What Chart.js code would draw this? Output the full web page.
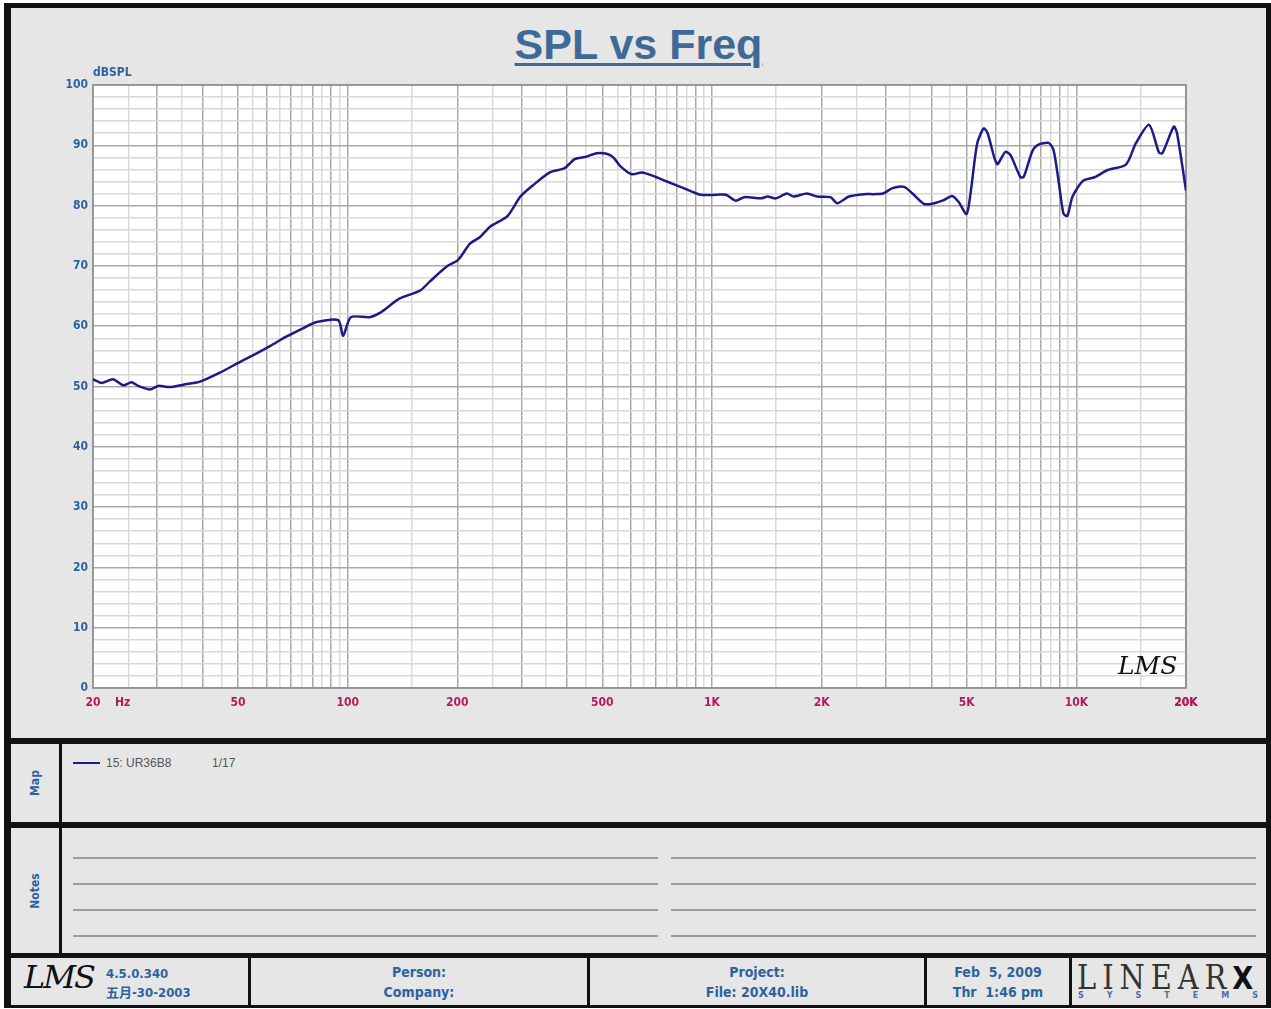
<!DOCTYPE html>
<html>
<head>
<meta charset="utf-8">
<script src="https://cdn.jsdelivr.net/npm/chart.js@4.4.1/dist/chart.umd.min.js"></script>
<style>
  body { margin: 0; background: #fff; width: 1271px; height: 1009px; position: relative; overflow: hidden; }
  .abs { position: absolute; }
  .frame { left: 4px; top: 3px; width: 1267px; height: 1005px; background: #111; }
  .panel { background: #e6e6e6; }
  .narrow { font-family: "Liberation Sans Narrow", "DejaVu Sans Condensed", "Liberation Sans", "Noto Sans CJK SC", sans-serif; font-weight: bold; color: #2d62a0; }
  .title { left: 11px; width: 1255px; top: 20px; text-align: center; font: bold 43px "Liberation Sans", Arial, sans-serif; color: #3f6a95; text-decoration: underline; text-decoration-thickness: 3px; text-underline-offset: 4px; }
  .side { width: 48px; display: flex; align-items: center; justify-content: center; }
  .side span { transform: rotate(-90deg); font-size: 12px; }
  .note { height: 2px; background: #9c9c9c; }
  .foot { display: flex; flex-direction: column; justify-content: center; align-items: center; font-size: 14px; line-height: 20px; }
  #c { position: absolute; left: 0; top: 0; }
</style>
</head>
<body>
<div class="abs frame"></div>
<div class="abs panel" style="left:11px;top:8px;width:1255px;height:730px;"></div>
<div class="abs title">SPL vs Freq</div>

<!-- map panel -->
<div class="abs panel side narrow" style="left:11px;top:744px;height:78px;"><span>Map</span></div>
<div class="abs panel" style="left:62px;top:744px;width:1204px;height:78px;"></div>
<div class="abs" style="left:73px;top:762px;width:27px;height:2px;background:#1c1c86;"></div>
<div class="abs" style="left:106px;top:756px;font:12px 'Liberation Sans',Arial,sans-serif;color:#555;">15: UR36B8</div>
<div class="abs" style="left:212px;top:756px;font:12px 'Liberation Sans',Arial,sans-serif;color:#555;">1/17</div>

<!-- notes panel -->
<div class="abs panel side narrow" style="left:11px;top:828px;height:125px;"><span>Notes</span></div>
<div class="abs panel" style="left:62px;top:828px;width:1204px;height:125px;"></div>
<div class="abs note" style="left:73px;top:857px;width:585px;"></div>
<div class="abs note" style="left:73px;top:883px;width:585px;"></div>
<div class="abs note" style="left:73px;top:909px;width:585px;"></div>
<div class="abs note" style="left:73px;top:935px;width:585px;"></div>
<div class="abs note" style="left:671px;top:857px;width:585px;"></div>
<div class="abs note" style="left:671px;top:883px;width:585px;"></div>
<div class="abs note" style="left:671px;top:909px;width:585px;"></div>
<div class="abs note" style="left:671px;top:935px;width:585px;"></div>

<!-- footer -->
<div class="abs panel" style="left:11px;top:958px;width:237px;height:47px;"></div>
<div class="abs" style="left:24px;top:958px;height:47px;line-height:47px;font:italic 32px 'DejaVu Serif',serif;color:#111;letter-spacing:-2px;">LMS</div>
<div class="abs narrow" style="left:106px;top:964px;font-size:13px;line-height:19px;">4.5.0.340<br>五月-30-2003</div>
<div class="abs panel foot narrow" style="left:251px;top:958px;width:336px;height:47px;"><div>Person:</div><div>Company:</div></div>
<div class="abs panel foot narrow" style="left:590px;top:958px;width:334px;height:47px;"><div>Project:</div><div>File: 20X40.lib</div></div>
<div class="abs panel foot narrow" style="left:927px;top:958px;width:142px;height:47px;"><div>Feb&nbsp; 5, 2009</div><div>Thr&nbsp; 1:46 pm</div></div>
<div class="abs panel" style="left:1072px;top:958px;width:194px;height:47px;"></div>
<div class="abs" style="left:1077px;top:957px;font:34px 'DejaVu Serif','Liberation Serif',serif;color:#333;letter-spacing:7px;transform:scaleX(0.85);transform-origin:left;white-space:nowrap;">LINEAR<span style="font:900 32px 'DejaVu Sans',sans-serif;color:#111;letter-spacing:0;">X</span></div>
<div class="abs" style="left:1078px;top:991px;width:180px;display:flex;justify-content:space-between;font:bold 8px 'DejaVu Sans',sans-serif;color:#4a6ea0;">
  <span>S</span><span>Y</span><span>S</span><span>T</span><span>E</span><span>M</span><span>S</span>
</div>

<canvas id="c" width="1271" height="738"></canvas>

<script>
// measured response (Hz, dBSPL)
const freqHz = [20, 21.1, 22.7, 24.2, 25.5, 26.6, 28.7, 30.2, 32.5, 36.2, 39.3, 44.6, 50.7, 55.1, 61.2, 68, 75.6, 82.2, 94.2, 97.2,
  102, 115, 122.6, 139, 158, 168, 187, 201, 216.6, 231, 246, 274, 298, 323, 359, 394, 420, 452, 482, 514,
  536, 559, 602, 642, 692, 752, 836, 930, 1032, 1092, 1162, 1226, 1363, 1422, 1499, 1604, 1674, 1822, 1942, 2114,
  2206, 2376, 2612, 2784, 2948, 3128, 3366, 3550, 3816, 4020, 4326, 4560, 4754, 4996, 5124, 5344, 5570, 5710, 6056, 6384,
  6592, 7026, 7176, 7558, 7806, 8392, 8658, 8934, 9216, 9448, 9764, 10428, 11218, 12196, 13680, 14560, 15840, 16860, 17232, 18520,
  18900, 20000];
const splDb = [51.2, 50.6, 51.2, 50.2, 50.7, 50.1, 49.5, 50.1, 49.9, 50.4, 50.8, 52.3, 54.1, 55.2, 56.7, 58.3, 59.7, 60.7, 61.0, 58.4,
  61.5, 61.5, 62.2, 64.6, 65.9, 67.4, 69.9, 71.0, 73.7, 74.8, 76.5, 78.2, 81.5, 83.4, 85.5, 86.2, 87.7, 88.1, 88.7, 88.6,
  88.0, 86.6, 85.2, 85.5, 84.9, 84.0, 82.9, 81.8, 81.8, 81.8, 80.8, 81.4, 81.2, 81.5, 81.2, 82.0, 81.5, 82.0, 81.5, 81.4,
  80.4, 81.5, 81.9, 81.9, 82.0, 82.9, 83.1, 82.0, 80.3, 80.3, 80.9, 81.6, 80.6, 78.6, 82.0, 90.3, 92.8, 92.0, 86.9, 88.9,
  88.4, 84.7, 84.8, 88.9, 90.0, 90.4, 89.2, 84.2, 78.7, 78.3, 81.5, 84.1, 84.7, 85.9, 86.8, 90.3, 93.4, 88.8, 88.7, 93.1,
  92.0, 82.5];

const xTickValues = [20, 50, 100, 200, 500, 1000, 2000, 5000, 10000, 20000];
const xTickLabels = ['20', '50', '100', '200', '500', '1K', '2K', '5K', '10K', '20K'];
const yLabelValues = [0, 10, 20, 30, 40, 50, 60, 70, 80, 90, 100];

const narrowFont = '"Liberation Sans Narrow", "DejaVu Sans Condensed", "Liberation Sans", sans-serif';

// grid positions: every 1x and 0.5x step in each decade
const xGrid = [];
for (let d = 10; d <= 10000; d *= 10) {
  for (let m = 1; m < 10; m += 0.5) {
    const v = m * d;
    if (v >= 20 && v <= 20000) xGrid.push(v);
  }
}
xGrid.push(20000);

function isWholeStep(v) {
  const d = Math.pow(10, Math.floor(Math.log10(v) + 1e-9));
  const m = Math.round(v / d * 2) / 2;
  return m % 1 === 0;
}

const plotBg = {
  id: 'plotBg',
  beforeDraw(chart) {
    const {ctx, chartArea: a} = chart;
    ctx.save();
    ctx.fillStyle = '#ffffff';
    ctx.fillRect(a.left, a.top, a.right - a.left, a.bottom - a.top);
    ctx.restore();
  },
  beforeDatasetsDraw(chart) {
    const {ctx, chartArea: a} = chart;
    ctx.save();
    ctx.strokeStyle = '#8a8a8a';
    ctx.lineWidth = 1.5;
    ctx.strokeRect(a.left, a.top, a.right - a.left, a.bottom - a.top);
    ctx.restore();
  },
  afterDraw(chart) {
    const {ctx, chartArea: a, scales} = chart;
    ctx.save();
    ctx.font = 'bold 12px ' + narrowFont;
    ctx.fillStyle = '#2d62a0';
    ctx.textBaseline = 'bottom';
    ctx.fillText('dBSPL', a.left, a.top - 6);
    ctx.fillStyle = '#b21a5c';
    ctx.textBaseline = 'top';
    ctx.fillText('Hz', scales.x.getPixelForValue(20) + 22, a.bottom + 9);
    ctx.fillStyle = '#111';
    ctx.font = 'italic 25px "DejaVu Serif", serif';
    ctx.textBaseline = 'alphabetic';
    ctx.fillText('LMS', a.right - 68, a.bottom - 14);
    ctx.restore();
  }
};

const ctx = document.getElementById('c').getContext('2d');
new Chart(ctx, {
  type: 'line',
  data: {
    datasets: [{
      data: freqHz.map((f, i) => ({x: f, y: splDb[i]})),
      borderColor: '#1c1c86',
      borderWidth: 2.5,
      pointRadius: 0,
      tension: 0.25,
      fill: false
    }]
  },
  options: {
    responsive: false,
    animation: false,
    devicePixelRatio: 1,
    layout: { padding: { left: 0, top: 85, right: 85, bottom: 0 } },
    plugins: { legend: { display: false }, tooltip: { enabled: false } },
    scales: {
      x: {
        type: 'logarithmic',
        min: 20,
        max: 20000,
        afterBuildTicks: s => { s.ticks = xGrid.map(v => ({value: v})); },
        afterFit: s => { s.height = 50; },
        border: { display: false },
        grid: {
          drawTicks: false,
          color: c => isWholeStep(c.tick.value) ? '#a9a9a9' : '#dadada',
          lineWidth: 1.5
        },
        ticks: {
          autoSkip: false,
          maxRotation: 0,
          padding: 8,
          color: '#b21a5c',
          font: { family: narrowFont, size: 12, weight: 'bold' },
          callback: v => {
            const i = xTickValues.findIndex(t => Math.abs(t - v) < 1e-6);
            return i >= 0 ? xTickLabels[i] : '';
          }
        }
      },
      y: {
        min: 0,
        max: 100,
        afterFit: s => { s.width = 93; },
        border: { display: false },
        grid: {
          drawTicks: false,
          color: c => c.tick.value % 10 === 0 ? '#a9a9a9' : '#d8d8d8',
          lineWidth: 1.5
        },
        ticks: {
          stepSize: 2,
          autoSkip: false,
          padding: 5,
          color: '#2d62a0',
          font: { family: narrowFont, size: 12, weight: 'bold' },
          callback: v => yLabelValues.includes(v) ? String(v) : ''
        }
      }
    }
  },
  plugins: [plotBg]
});
</script>
</body>
</html>
